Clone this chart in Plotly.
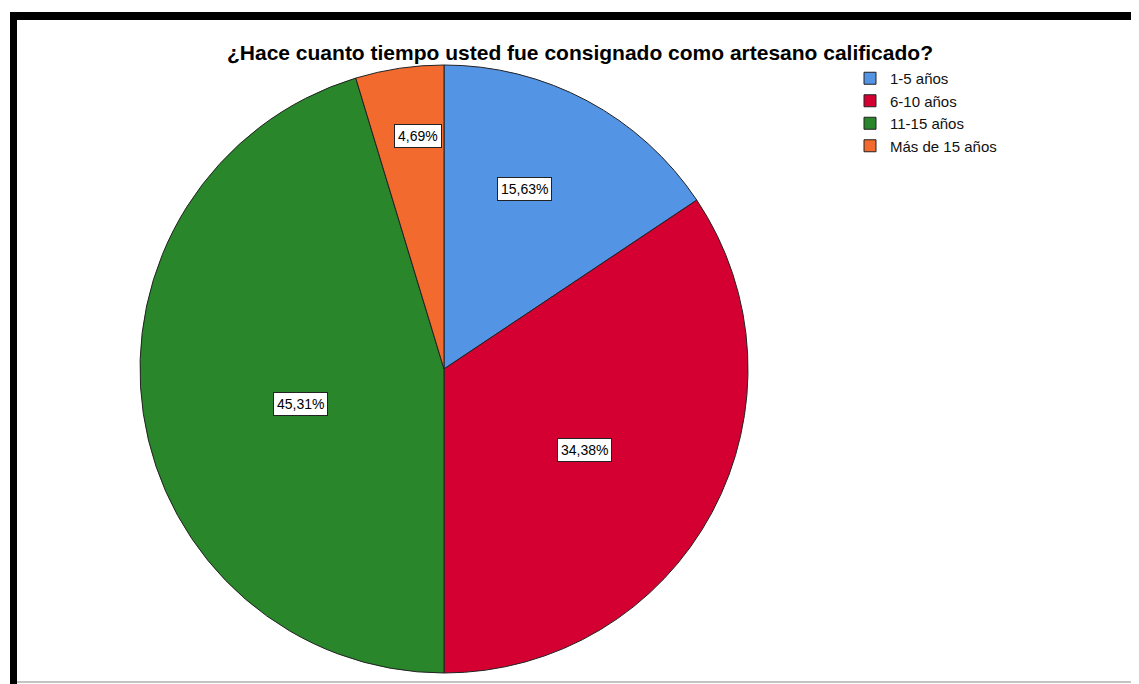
import math
from decimal import Decimal, ROUND_HALF_UP
import plotly.graph_objects as go

# ---- data ----
categories = ["1-5 años", "6-10 años", "11-15 años", "Más de 15 años"]
counts = [10, 22, 29, 3]
title_text = "¿Hace cuanto tiempo usted fue consignado como artesano calificado?"

# ---- style ----
colors = ["#5494E4", "#D50032", "#2A862A", "#F26A2E"]
label_radius_frac = [0.648, 0.535, 0.487, 0.771]
label_angle_offset_deg = [-4.1, 1.8, -5.3, 2.0]
FONT = "Liberation Sans, Arial, sans-serif"

OFF = 8  # browser body margin
PAGE_W, PAGE_H = 1139, 684
W, H = PAGE_W - OFF, PAGE_H - OFF


def px(x):  # page px -> paper x
    return (x - OFF) / W


def py(y):  # page px -> paper y
    return 1 - (y - OFF) / H


cx_px, cy_px, r_px = 444, 369, 304  # in page pixels

dom_x = [px(cx_px - r_px), px(cx_px + r_px)]
dom_y = [py(cy_px + r_px), py(cy_px - r_px)]

fig = go.Figure()
fig.add_trace(go.Pie(
    labels=categories,
    values=counts,
    sort=False,
    direction="clockwise",
    rotation=0,
    textinfo="none",
    hoverinfo="label+percent",
    marker=dict(colors=colors, line=dict(color="#222222", width=1)),
    domain=dict(x=dom_x, y=dom_y),
))

total = sum(counts)
cum = 0
annotations = []
for v, f, off in zip(counts, label_radius_frac, label_angle_offset_deg):
    mid = (cum + v / 2) / total * 2 * math.pi + math.radians(off)
    cum += v
    dx = r_px * f * math.sin(mid)
    dy = -r_px * f * math.cos(mid)
    pct_val = (Decimal(v) * 100 / Decimal(total)).quantize(Decimal("0.01"), rounding=ROUND_HALF_UP)
    pct = str(pct_val).replace(".", ",") + "%"
    annotations.append(dict(
        x=px(cx_px + dx), y=py(cy_px + dy),
        xref="paper", yref="paper", text=pct, showarrow=False,
        xanchor="center", yanchor="middle",
        font=dict(family=FONT, size=14, color="black"),
        bgcolor="white", bordercolor="#222222", borderwidth=1, borderpad=3,
    ))

annotations.append(dict(
    x=px(580), y=py(52), xref="paper", yref="paper", text="<b>" + title_text + "</b>",
    showarrow=False, xanchor="center", yanchor="middle",
    font=dict(family=FONT, size=21, color="black"),
))

shapes = [
    dict(type="rect", xref="paper", yref="paper", x0=px(10), x1=1, y0=py(20), y1=py(12),
         fillcolor="black", line=dict(width=0)),
    dict(type="rect", xref="paper", yref="paper", x0=px(10), x1=px(17), y0=0, y1=py(12),
         fillcolor="black", line=dict(width=0)),
    dict(type="line", xref="paper", yref="paper", x0=px(17), x1=1, y0=py(682), y1=py(682),
         line=dict(color="#888888", width=1)),
]

fig.update_layout(
    width=W, height=H,
    margin=dict(l=0, r=0, t=0, b=0),
    paper_bgcolor="white", plot_bgcolor="white",
    showlegend=True,
    legend=dict(x=px(850), y=py(62), xanchor="left", yanchor="top",
                font=dict(family=FONT, size=15, color="#111111"),
                bgcolor="rgba(0,0,0,0)", itemwidth=30),
    annotations=annotations,
    shapes=shapes,
)

fig.write_html("out.html")
